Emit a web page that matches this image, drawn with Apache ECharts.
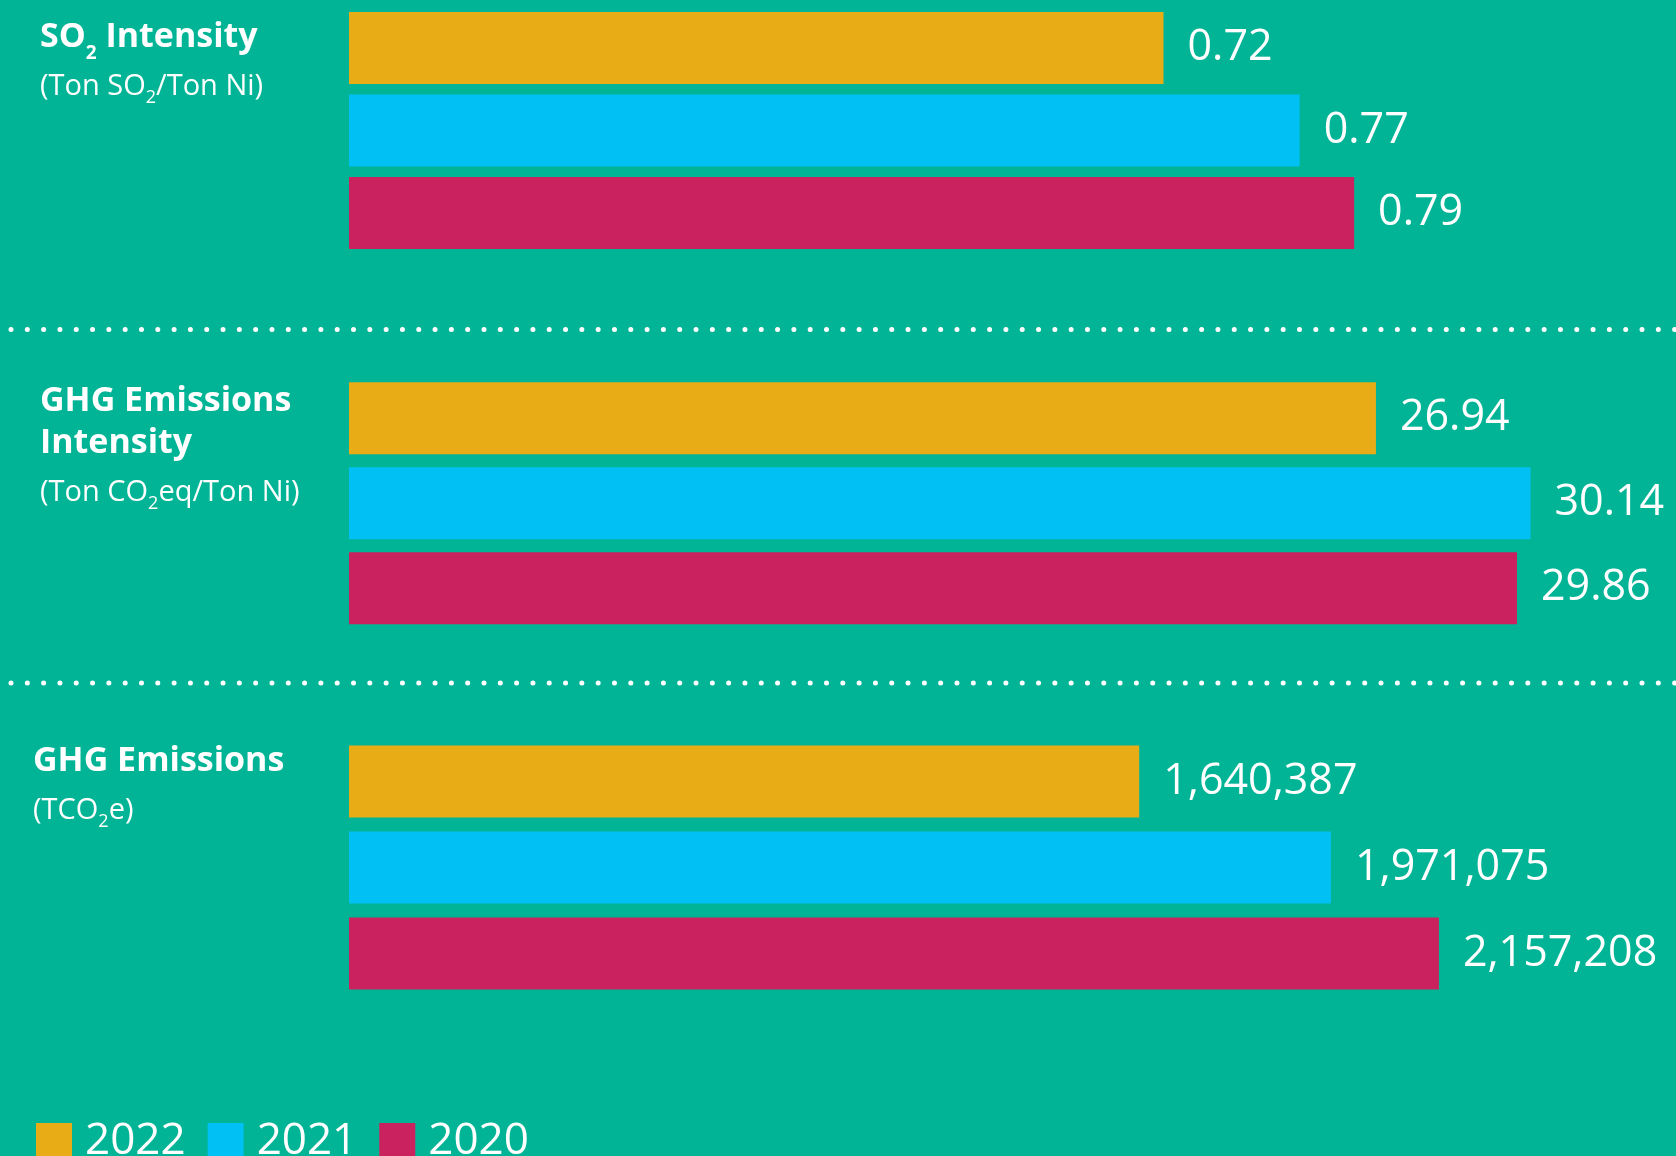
<!DOCTYPE html>
<html>
<head>
<meta charset="utf-8">
<script src="https://cdn.jsdelivr.net/npm/echarts@6/dist/echarts.min.js"></script>
<style>
html,body{margin:0;padding:0;background:#02B496;}
#chart{width:1676px;height:1156px;}
</style>
</head>
<body>
<div id="chart"></div>
<script>
// ---- data ----
const years = ['2022', '2021', '2020'];
const so2Intensity = [0.72, 0.77, 0.79];          // Ton SO2 / Ton Ni
const ghgIntensity = [26.94, 30.14, 29.86];       // Ton CO2eq / Ton Ni
const ghgEmissions = [1640387, 1971075, 2157208]; // TCO2e
const sectionValues = [so2Intensity, ghgIntensity, ghgEmissions];

// ---- style ----
const BG = '#02B496';
const yearColors = ['#E8AC16', '#01C0F3', '#C9225E'];
const FONT = '"Open Sans", "Noto Sans", sans-serif';

// axis ranges (the infographic bars are not drawn from zero)
const axisRanges = [
  { min: 0.4209, max: 0.9082 },
  { min: 5.681, max: 33.152 },
  { min: 277800, max: 2566100 }
];
const gridBoxes = [
  { top: 6.75, height: 247.5 },
  { top: 375.7, height: 255 },
  { top: 738.5, height: 258 }
];
const labelFormatters = [
  v => v.toFixed(2),
  v => v.toFixed(2),
  v => v.toLocaleString('en-US')
];

const grids = [], xAxes = [], yAxes = [], series = [];
sectionValues.forEach((vals, s) => {
  grids.push({ left: 349, width: 1327, top: gridBoxes[s].top, height: gridBoxes[s].height });
  xAxes.push({ type: 'value', gridIndex: s, min: axisRanges[s].min, max: axisRanges[s].max, show: false });
  yAxes.push({ type: 'category', gridIndex: s, data: years, inverse: true, show: false });
  years.forEach((y, k) => {
    series.push({
      type: 'bar',
      name: y,
      xAxisIndex: s,
      yAxisIndex: s,
      barWidth: 72,
      barGap: '-100%',
      itemStyle: { color: yearColors[k] },
      data: years.map((_, j) => (j === k ? vals[k] : null)),
      label: {
        show: true,
        position: 'right',
        distance: 24,
        color: '#ffffff',
        fontFamily: FONT,
        fontSize: 43,
        formatter: p => labelFormatters[s](p.value)
      }
    });
  });
});

const bold = { color: '#fff', fontFamily: FONT, fontWeight: 'bold', fontSize: 34, lineHeight: 42 };
const boldSub = { color: '#fff', fontFamily: FONT, fontWeight: 'bold', fontSize: 19, lineHeight: 8, padding: [34, 0, 0, 0] };
const reg = { color: '#fff', fontFamily: FONT, fontWeight: 'normal', fontSize: 29, lineHeight: 36 };
const regSub = { color: '#fff', fontFamily: FONT, fontWeight: 'normal', fontSize: 18, lineHeight: 14, padding: [22, 0, 0, 0] };

function t(text, left, top, rich) {
  return { text, left, top, padding: 0, textStyle: { fontWeight: 'normal', rich } };
}

const titles = [
  t('{b|SO}{s|2}{b| Intensity}', 40, 16, { b: bold, s: boldSub }),
  t('{r|(Ton SO}{s|2}{r|/Ton Ni)}', 40, 69, { r: reg, s: regSub }),
  t('{b|GHG Emissions}\n{b|Intensity}', 40, 380, { b: bold }),
  t('{r|(Ton CO}{s|2}{r|eq/Ton Ni)}', 40, 475, { r: reg, s: regSub }),
  t('{b|GHG Emissions}', 33, 740, { b: bold }),
  t('{r|(TCO}{s|2}{r|e)}', 33, 793, { r: reg, s: regSub })
];

const dotted = y => ({
  type: 'line',
  shape: { x1: 11, y1: y, x2: 1676, y2: y },
  style: { stroke: '#ffffff', lineWidth: 5, lineDash: [0.01, 16.3], lineCap: 'round' },
  silent: true
});

const chart = echarts.init(document.getElementById('chart'), null, { renderer: 'canvas' });
chart.setOption({
  animation: false,
  backgroundColor: BG,
  title: titles,
  grid: grids,
  xAxis: xAxes,
  yAxis: yAxes,
  legend: {
    data: years,
    left: 31,
    top: 1111,
    itemWidth: 36,
    itemHeight: 36,
    itemGap: 22,
    icon: 'rect',
    selectedMode: false,
    textStyle: { color: '#fff', fontFamily: FONT, fontSize: 44, lineHeight: 36, padding: [14, 0, 0, 8] }
  },
  graphic: [dotted(329.5), dotted(683)],
  series: series
});
</script>
</body>
</html>
